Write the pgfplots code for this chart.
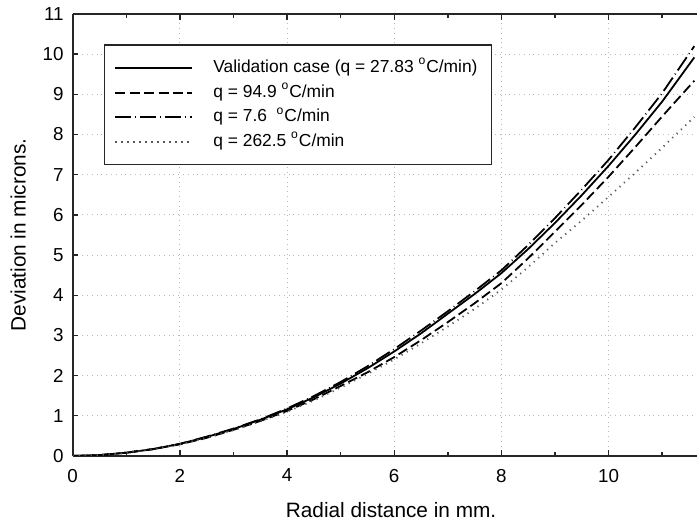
\documentclass[border=0pt]{standalone}
\usepackage{fontspec}
\setmainfont{Liberation Sans}
\usepackage{pgfplots}
\pgfplotsset{compat=1.18}
\begin{document}
\begin{tikzpicture}
\begin{axis}[
  scale only axis, width=312.2pt, height=221pt,
  xmin=0, xmax=11.65, ymin=0, ymax=11,
  axis x line*=box, axis y line*=left,
  every outer y axis line/.style={-},
  every inner y axis line/.style={-},
  axis line style={black!85, line width=0.9pt},
  tick align=inside,
  xtick={0,2,4,6,8,10}, minor xtick={1,3,5,7,9,11},
  ytick={0,1,...,11},
  major tick length=2.8pt, minor tick length=2.2pt,
  tick style={black!85, line width=0.7pt},
  xtick pos=both,
  grid=major, grid style={dotted, black!28, line width=0.5pt},
  /pgf/number format/assume math mode=true,
  tick label style={font=\fontsize{9.4}{11}\selectfont},
  xticklabel shift=3pt, yticklabel shift=1pt,
  every axis x label/.style={at={(axis description cs:0.51,-0.1222)}, anchor=center},
  every axis y label/.style={at={(axis description cs:-0.0871,0.5)}, anchor=center, rotate=90},
  label style={font=\fontsize{10.4}{12}\selectfont},
  xlabel={Radial distance in mm.},
  ylabel={Deviation in microns.},
  legend cell align=left,
  legend image code/.code={\draw[#1] (0pt,0pt) -- (38.5pt,0pt);},
  legend style={at={(0.0501,0.9314)}, anchor=north west, draw=black!85, line width=0.6pt,
    inner xsep=5pt, inner ysep=7.5pt, row sep=4.2pt,
    font=\fontsize{8.7}{10}\selectfont,
    nodes={inner xsep=2pt, inner ysep=0pt, text height=6.3pt, text depth=1.8pt},
    /tikz/every odd column/.append style={column sep=8pt}},
]
\addplot[black, line width=0.9pt, solid] coordinates {
(0,0) (0.5,0.02) (1,0.08) (1.5,0.17) (2,0.30) (2.5,0.47) (3,0.67) (3.5,0.90) (4,1.16) (4.5,1.46) (5,1.80) (5.5,2.18) (6,2.60) (6.5,3.05) (7,3.54) (7.5,4.03) (8,4.55) (8.5,5.15) (9,5.80) (9.5,6.49) (10,7.22) (10.5,8.00) (11,8.82) (11.6,9.92)
};
\addlegendentry{Validation case (q = 27.83 \textsuperscript{o}C/min)}
\addplot[black, line width=0.9pt, dash pattern=on 5pt off 2.2pt] coordinates {
(0,0) (0.5,0.02) (1,0.08) (1.5,0.17) (2,0.29) (2.5,0.45) (3,0.65) (3.5,0.87) (4,1.12) (4.5,1.41) (5,1.74) (5.5,2.08) (6,2.46) (6.5,2.88) (7,3.33) (7.5,3.80) (8,4.30) (8.5,4.92) (9,5.58) (9.5,6.25) (10,6.95) (10.5,7.69) (11,8.45) (11.6,9.34)
};
\addlegendentry{q = 94.9 \textsuperscript{o}C/min}
\addplot[black, line width=0.9pt, dash pattern=on 8pt off 2pt on 0.4pt off 2pt] coordinates {
(0,0) (0.5,0.02) (1,0.08) (1.5,0.17) (2,0.30) (2.5,0.48) (3,0.68) (3.5,0.91) (4,1.18) (4.5,1.49) (5,1.84) (5.5,2.23) (6,2.66) (6.5,3.12) (7,3.60) (7.5,4.10) (8,4.62) (8.5,5.25) (9,5.92) (9.5,6.63) (10,7.37) (10.5,8.18) (11,9.03) (11.6,10.2)
};
\addlegendentry{q = 7.6\ \ \textsuperscript{o}C/min}
\addplot[black!65, line width=0.9pt, dash pattern=on 0.6pt off 2.4pt] coordinates {
(0,0) (0.5,0.02) (1,0.08) (1.5,0.17) (2,0.29) (2.5,0.45) (3,0.64) (3.5,0.86) (4,1.10) (4.5,1.38) (5,1.70) (5.5,2.04) (6,2.40) (6.5,2.80) (7,3.22) (7.5,3.66) (8,4.14) (8.5,4.70) (9,5.30) (9.5,5.86) (10,6.45) (10.5,7.05) (11,7.67) (11.6,8.44)
};
\addlegendentry{q = 262.5 \textsuperscript{o}C/min}
\end{axis}
\pgfresetboundingbox
\path (-36.35pt,-33.5pt) rectangle (312.2pt,228pt);
\end{tikzpicture}
\end{document}
